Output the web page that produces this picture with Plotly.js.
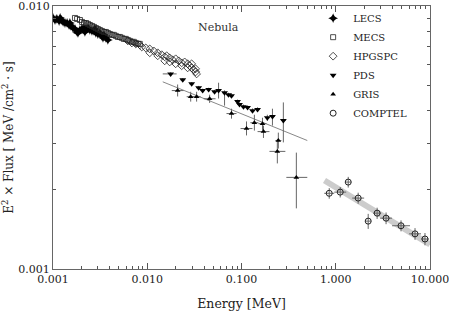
<!DOCTYPE html>
<html><head><meta charset="utf-8">
<script src="https://cdn.plot.ly/plotly-3.0.1.min.js"></script>
<style>html,body{margin:0;padding:0;background:#fff}#chart{width:449px;height:311px}</style>
</head><body><div id="chart"></div>
<script>
// LECS
var lecsE = [0.00100,0.00105,0.00110,0.00116,0.00119,0.00122,0.00128,0.00134,0.00141,0.00148,0.00151,0.00155,0.00163,0.00171,0.00180,0.00184,0.00193,0.00203,0.00213,0.00218,0.00224,0.00235,0.00246,0.00259,0.00272,0.00278,0.00285,0.00299,0.00314,0.00330,0.00339,0.00347,0.00364,0.00382];
var lecsF = [0.00901,0.00885,0.00893,0.00877,0.00901,0.00885,0.00870,0.00862,0.00862,0.00847,0.00862,0.00840,0.00825,0.00818,0.00797,0.00790,0.00811,0.00818,0.00825,0.00797,0.00818,0.00825,0.00811,0.00804,0.00804,0.00818,0.00790,0.00783,0.00790,0.00770,0.00757,0.00777,0.00757,0.00743];
// MECS
var mecsE = [0.00171,0.00180,0.00193,0.00203,0.00213,0.00224,0.00235,0.00246,0.00259,0.00272,0.00285,0.00299,0.00314,0.00330,0.00347,0.00364,0.00382,0.00401,0.00421,0.00442,0.00464,0.00487,0.00512,0.00537,0.00564,0.00592,0.00622,0.00653,0.00686,0.00720,0.00756,0.00793,0.00833];
var mecsF = [0.00901,0.00893,0.00885,0.00870,0.00862,0.00862,0.00855,0.00847,0.00840,0.00833,0.00825,0.00818,0.00811,0.00804,0.00797,0.00797,0.00790,0.00783,0.00777,0.00777,0.00770,0.00763,0.00763,0.00757,0.00750,0.00750,0.00743,0.00737,0.00731,0.00731,0.00724,0.00718,0.00718];
// HPGSPC
var hpgE = [0.00622,0.00686,0.00756,0.00833,0.00875,0.00964,0.01063,0.01172,0.01292,0.01424,0.01532,0.01608,0.01730,0.01862,0.02003,0.02154,0.02318,0.02494,0.02683,0.02817,0.02957,0.03105,0.03260,0.03340,0.01063,0.01292,0.01532,0.01730,0.02003,0.02318,0.02683,0.02957,0.03260];
var hpgF = [0.00737,0.00724,0.00718,0.00712,0.00699,0.00693,0.00687,0.00675,0.00664,0.00653,0.00641,0.00647,0.00635,0.00624,0.00630,0.00619,0.00608,0.00613,0.00603,0.00593,0.00582,0.00572,0.00562,0.00552,0.00664,0.00647,0.00619,0.00613,0.00603,0.00593,0.00582,0.00603,0.00577];
// PDS
var pdsE = [0.0177,0.0238,0.0296,0.0351,0.0387,0.0448,0.0518,0.0571,0.0661,0.0728,0.0783,0.0908,0.0953,0.105,0.116,0.131,0.148,0.188,0.213,0.278];
var pdsF = [0.00552,0.00524,0.00506,0.00489,0.00477,0.00481,0.00472,0.00477,0.00468,0.00460,0.00456,0.00433,0.00422,0.00414,0.00411,0.00400,0.00404,0.00376,0.00380,0.00367];
var pdsEp = [0.0028,0.0015,0.0018,0.0021,0.0023,0.0027,0.0031,0.0034,0.0040,0.0044,0.0047,0.0055,0.0057,0.0063,0.0070,0.0079,0.0089,0.0113,0.0128,0.0167];
var pdsEm = [0.0031,0.0014,0.0017,0.0020,0.0022,0.0025,0.0029,0.0032,0.0037,0.0041,0.0044,0.0051,0.0053,0.0059,0.0065,0.0074,0.0083,0.0106,0.0120,0.0156];
var pdsFp = [0.00008,0.00008,0.00008,0.00008,0.00008,0.00008,0.00008,0.00034,0.00010,0.00008,0.00008,0.00008,0.00008,0.00008,0.00008,0.00008,0.00008,0.00010,0.00027,0.00063];
var pdsFm = [0.00008,0.00008,0.00008,0.00008,0.00008,0.00008,0.00008,0.00032,0.00050,0.00008,0.00008,0.00008,0.00008,0.00008,0.00008,0.00008,0.00008,0.00010,0.00029,0.00064];
// GRIS
var grisE = [0.0210,0.0289,0.0334,0.0459,0.0783,0.113,0.137,0.167,0.171,0.246,0.240,0.382];
var grisF = [0.00477,0.00452,0.00452,0.00444,0.00390,0.00342,0.00360,0.00357,0.00333,0.00308,0.00280,0.00223];
var grisEp = [0.0033,0.0029,0.0034,0.0072,0.0102,0.0177,0.014,0.017,0.027,0.019,0.052,0.117];
var grisEm = [0.0028,0.0027,0.0031,0.0062,0.0090,0.0153,0.013,0.016,0.023,0.017,0.042,0.083];
var grisFp = [0.00026,0.00020,0.00020,0.00016,0.00017,0.00022,0.00026,0.00019,0.00018,0.00022,0.00031,0.00054];
var grisFm = [0.00024,0.00019,0.00019,0.00016,0.00017,0.00020,0.00024,0.00019,0.00018,0.00021,0.00028,0.00053];
// COMPTEL
var comE = [0.853,1.116,1.357,1.73,2.21,2.75,3.42,4.93,6.94,8.85];
var comF = [0.00194,0.00196,0.00214,0.00186,0.00152,0.00163,0.00156,0.00146,0.00136,0.00130];
var comEp = [0.111,0.175,0.103,0.272,0.168,0.28,0.537,1.21,1.09,0.90];
var comEm = [0.098,0.151,0.096,0.235,0.156,0.254,0.464,0.97,0.94,0.82];
var comFp = [0.00009,0.00009,0.00010,0.00009,0.00010,0.00008,0.00008,0.00007,0.00007,0.00007];
var comFm = [0.00009,0.00009,0.00010,0.00009,0.00010,0.00008,0.00008,0.00007,0.00007,0.00007];
// fit models
var fitLowE = [0.0146, 0.499];
var fitLowF = [0.00515, 0.00308];
var fitHighE = [0.76, 10.0];
var fitHighF = [0.00217, 0.00124];

var errStyle = {color:'#666', thickness:1, width:0};
function err(p, m){ return Object.assign({type:'data', symmetric:false, array:p, arrayminus:m}, errStyle); }

var traces = [
  {x:fitHighE, y:fitHighF, mode:'lines', line:{color:'#cccccc', width:6}, showlegend:false, hoverinfo:'skip'},
  {x:fitLowE, y:fitLowF, mode:'lines', line:{color:'#888', width:1}, showlegend:false, hoverinfo:'skip'},
  {name:'LECS', x:lecsE, y:lecsF, mode:'markers', marker:{symbol:'star-diamond', size:7, color:'#000'}},
  {name:'MECS', x:mecsE, y:mecsF, mode:'markers', marker:{symbol:'square-open', size:5, color:'#222', line:{width:0.8}}},
  {name:'HPGSPC', x:hpgE, y:hpgF, mode:'markers', marker:{symbol:'diamond-open', size:6, color:'#222', line:{width:0.8}}},
  {name:'PDS', x:pdsE, y:pdsF, mode:'markers', marker:{symbol:'triangle-down', size:6, color:'#000'}, error_x:err(pdsEp,pdsEm), error_y:err(pdsFp,pdsFm)},
  {name:'GRIS', x:grisE, y:grisF, mode:'markers', marker:{symbol:'triangle-up', size:5, color:'#000'}, error_x:err(grisEp,grisEm), error_y:err(grisFp,grisFm)},
  {name:'COMPTEL', x:comE, y:comF, mode:'markers', marker:{symbol:'circle-open', size:6, color:'#222', line:{width:1}}, error_x:err(comEp,comEm), error_y:err(comFp,comFm)}
];

var axisCommon = {
  type:'log', showgrid:false, zeroline:false, showline:true, linecolor:'#666', linewidth:1,
  mirror:'allticks', ticks:'inside', ticklen:6, tickcolor:'#555', dtick:1, tickformat:'.3f',
  ticklabeloverflow:'allow',
  minor:{ticks:'inside', ticklen:3, tickcolor:'#555', dtick:'D1', showgrid:false},
  tickfont:{family:'DejaVu Serif', size:11, color:'#222'}
};

var layout = {
  width:449, height:311,
  margin:{l:53, r:19, t:5, b:42},
  paper_bgcolor:'#fff', plot_bgcolor:'#fff',
  font:{family:'DejaVu Serif', color:'#222'},
  xaxis:Object.assign({}, axisCommon, {range:[-3.0002,1.0002], title:{text:'Energy [MeV]', font:{family:'DejaVu Serif', size:12.5, color:'#222'}, standoff:14}}),
  yaxis:Object.assign({}, axisCommon, {range:[-3.0002,-1.9998], title:{text:'E<sup>2</sup> × Flux [ MeV /cm<sup>2</sup> · s]', font:{family:'DejaVu Serif', size:12, color:'#222'}, standoff:2}}),
  legend:{x:0.69, y:1.005, xanchor:'left', yanchor:'top', bgcolor:'rgba(0,0,0,0)', font:{family:'DejaVu Serif', size:10, color:'#222'}, tracegroupgap:0},
  annotations:[{text:'Nebula', x:0.44, y:0.95, xref:'paper', yref:'paper', showarrow:false, font:{family:'DejaVu Serif', size:11, color:'#333'}}],
  showlegend:true
};

Plotly.newPlot('chart', traces, layout, {displayModeBar:false, staticPlot:true});
</script></body></html>
